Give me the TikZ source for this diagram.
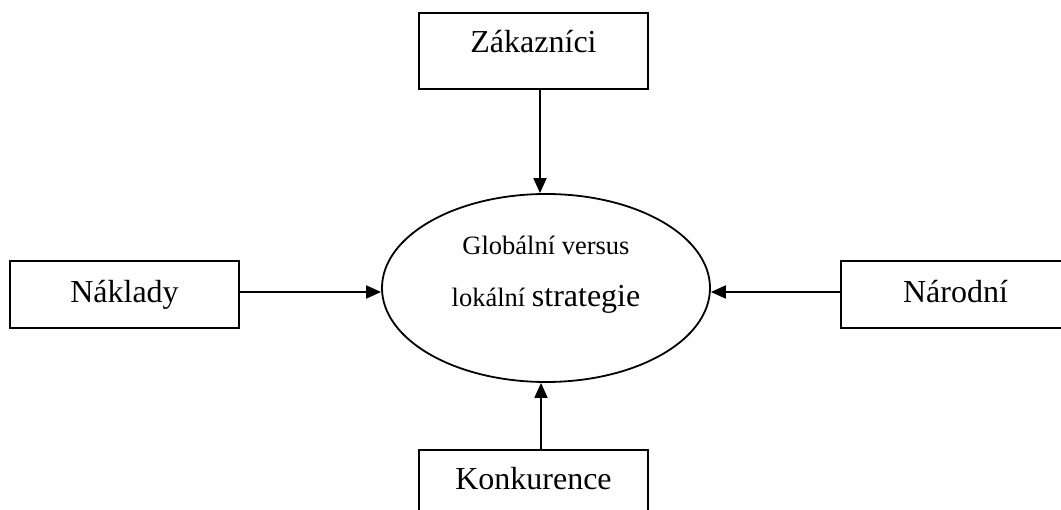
\documentclass[tikz,border=0pt]{standalone}
\usepackage{fontspec}
\setmainfont{Liberation Serif}
\usetikzlibrary{shapes.geometric,arrows.meta}
\begin{document}
\begin{tikzpicture}[x=1pt,y=-1pt,
  box/.style={draw, line width=1.8pt, rectangle, inner sep=0pt, minimum width=229pt, font=\fontsize{32}{38}\selectfont},
  tbbox/.style={box, minimum height=76pt, text height=21pt, text depth=17pt},
  sidebox/.style={box, minimum height=67pt, text height=22pt, text depth=6pt},
  ell/.style={draw, ellipse, line width=1.8pt, inner sep=0pt, minimum width=328pt, minimum height=188pt, text height=60pt, text depth=22pt},
  arr/.style={line width=1.8pt, -{Triangle[length=15pt,width=13pt]}}]
\useasboundingbox (0,0) rectangle (1061,510);
\clip (0,0) rectangle (1061,510);
\node[tbbox] (zak) at (533.5,51) {Zákazníci};
\node[sidebox] (nak) at (124.5,294.5) {Náklady};
\node[sidebox] (nar) at (955.5,294.5) {Národní};
\node[tbbox] (kon) at (533.5,488) {Konkurence};
\node[ell] (ell) at (546,288) {\fontsize{26.5}{52}\selectfont\begin{tabular}[b]{@{}c@{}}Globální versus\\lokální {\fontsize{32}{52}\selectfont strategie}\end{tabular}};
\coordinate (xa) at (540,0);
\coordinate (xb) at (541,0);
\coordinate (ya) at (0,292);
\draw[arr] (zak.south -| xa) -- (ell.north -| xa);
\draw[arr] (kon.north -| xb) -- (ell.south -| xb);
\draw[arr] (nak.east |- ya) -- (ell.west |- ya);
\draw[arr] (nar.west |- ya) -- (ell.east |- ya);
\end{tikzpicture}
\end{document}
